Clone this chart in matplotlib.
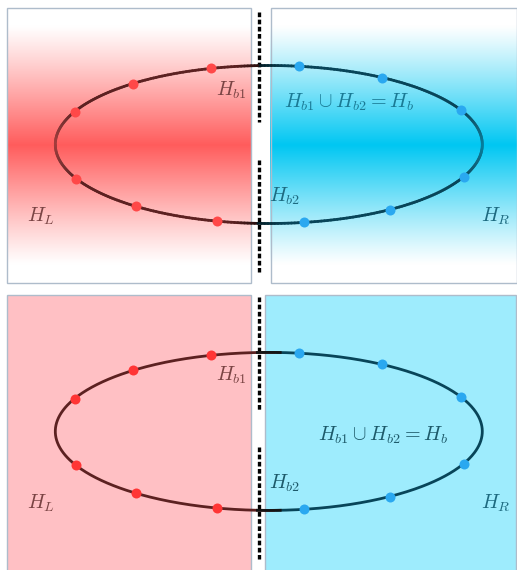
import numpy as np
import matplotlib
matplotlib.use("Agg")
import matplotlib.pyplot as plt
from matplotlib.collections import LineCollection
from matplotlib.patches import Rectangle

plt.rcParams['mathtext.fontset'] = 'cm'

# ---- data ----
panel_centers_y = [144.5, 431.4]          # ellipse centre (px, image coords) per panel
ellipse_cx = 268.8
ellipse_a = 213.5
ellipse_b = 79.0
red_angles = [105.8, 129.5, 155.5, 205.5, 231.5, 256]   # degrees
blue_angles = [82, 58, 26, -24, -55.5, -80.5]
labels = [r"$H_{b1}$", r"$H_{b2}$", r"$H_{b1}\cup H_{b2}=H_b$", r"$H_L$", r"$H_R$"]

W, H = 517, 570
fig = plt.figure(figsize=(W / 100, H / 100), dpi=100)
ax = fig.add_axes([0, 0, 1, 1])
ax.set_xlim(0, W)
ax.set_ylim(H, 0)
ax.axis('off')

red_full = np.array([1.0, 0.36, 0.36])
blue_full = np.array([0.0, 0.78, 0.95])
border = '#aebccb'
grad_cy, grad_half = 145, 120

def grad_t(y):
    return np.clip(1 - np.abs(y - grad_cy) / grad_half, 0, 1) ** 1.1

def grad_img(col):
    ys = np.arange(8, 284)
    t = grad_t(ys)
    img = (1 - t)[:, None] * np.ones(3)[None, :] + t[:, None] * col[None, :]
    return img[:, None, :]

# ---- top panel backgrounds ----
ax.imshow(grad_img(red_full), extent=[7, 251, 283, 8], aspect='auto', zorder=0)
ax.imshow(grad_img(blue_full), extent=[270, 517, 283, 8], aspect='auto', zorder=0)
ax.add_patch(Rectangle((7, 8), 244, 275, fill=False, ec=border, lw=1, zorder=1))
ax.add_patch(Rectangle((270.5, 8), 246, 275, fill=False, ec=border, lw=1, zorder=1))

# ---- bottom panel backgrounds ----
ax.add_patch(Rectangle((7, 295), 244, 280, fc='#ffc0c4', ec=border, lw=1, zorder=1))
ax.add_patch(Rectangle((265, 295), 251, 280, fc='#9eecfd', ec=border, lw=1, zorder=1))

# ---- dashed dividers ----
div_x = 259
for (y0, y1) in [(12, 122), (160, 272), (297, 410), (447, 559)]:
    ax.plot([div_x, div_x], [y0, y1], color='black', lw=2.4,
            linestyle=(0, (1.4, 0.75)), solid_capstyle='butt', zorder=3)

left_col = np.array([0.36, 0.13, 0.13])
right_col = np.array([0.03, 0.27, 0.35])
LW = 2.0

for pi, cy in enumerate(panel_centers_y):
    th = np.linspace(0, 2 * np.pi, 400)
    xs = ellipse_cx + ellipse_a * np.cos(th)
    ys = cy - ellipse_b * np.sin(th)
    if pi == 0:
        pts = np.column_stack([xs, ys])
        segs = np.stack([pts[:-1], pts[1:]], axis=1)
        mx = (xs[:-1] + xs[1:]) / 2
        my = (ys[:-1] + ys[1:]) / 2
        thm = (th[:-1] + th[1:]) / 2
        cols = []
        for x, y, t in zip(mx, my, thm):
            base = left_col if x < div_x else right_col
            full = red_full if x < div_x else blue_full
            bg = (1 - grad_t(y)) * np.ones(3) + grad_t(y) * full
            s = abs(np.sin(t))
            fade = np.clip(1 - s / 0.45, 0, 1) * 0.45
            near_div = np.clip(1 - abs(x - div_x) / 25, 0, 1)
            c = base * (1 - fade) + bg * fade
            c = c * (1 - 0.6 * near_div)
            cols.append((*c, 1.0))
        ax.add_collection(LineCollection(segs, colors=cols, lw=LW, zorder=4,
                                         capstyle='round', joinstyle='round'))
    else:
        th_l = np.linspace(np.pi / 2 - 0.03, 3 * np.pi / 2 + 0.03, 300)
        ax.plot(ellipse_cx + ellipse_a * np.cos(th_l), cy - ellipse_b * np.sin(th_l),
                color=left_col, lw=LW, zorder=4, solid_capstyle='butt')
        th_r = np.linspace(-np.pi / 2 + 0.03, np.pi / 2 - 0.03, 300)
        ax.plot(ellipse_cx + ellipse_a * np.cos(th_r), cy - ellipse_b * np.sin(th_r),
                color=right_col, lw=LW, zorder=4, solid_capstyle='butt')
        # darker joins near the divider
        for c0 in (np.pi / 2, 3 * np.pi / 2):
            th_c = np.linspace(c0 - 0.06, c0 + 0.06, 20)
            ax.plot(ellipse_cx + ellipse_a * np.cos(th_c), cy - ellipse_b * np.sin(th_c),
                    color='#151515', lw=LW, zorder=4, solid_capstyle='butt')

    rc = '#ff4848' if pi == 0 else '#ff3535'
    rx = ellipse_cx + ellipse_a * np.cos(np.radians(red_angles))
    ry = cy - ellipse_b * np.sin(np.radians(red_angles))
    ax.plot(rx, ry, 'o', color=rc, ms=7.2, mec='none', zorder=5)
    bx = ellipse_cx + ellipse_a * np.cos(np.radians(blue_angles))
    by = cy - ellipse_b * np.sin(np.radians(blue_angles))
    ax.plot(bx, by, 'o', color='#2aa8f0', ms=7.2, mec='none', zorder=5)

    off = cy - panel_centers_y[0]
    lc = '#7a4444'
    rcl = '#1d6a80'
    fs = 14.5
    ax.text(231, 90 + off - (2 if pi else 0), labels[0], color=lc, fontsize=fs, ha='center', va='center', zorder=6)
    ax.text(285, 197 + off - 1, labels[1], color='#1d5a6a' if pi else rcl, fontsize=fs, ha='center', va='center', zorder=6)
    if pi == 0:
        ax.text(349, 102, labels[2], color='#1a7a95', fontsize=fs, ha='center', va='center', zorder=6)
    else:
        ax.text(383, 435, labels[2], color='#1d5a6a', fontsize=fs, ha='center', va='center', zorder=6)
    ax.text(41, 218 + off - 2, labels[3], color=lc, fontsize=fs, ha='center', va='center', zorder=6)
    ax.text(496, 217 + off - 1, labels[4], color=rcl, fontsize=fs, ha='center', va='center', zorder=6)

fig.savefig('out.png', dpi=100)
